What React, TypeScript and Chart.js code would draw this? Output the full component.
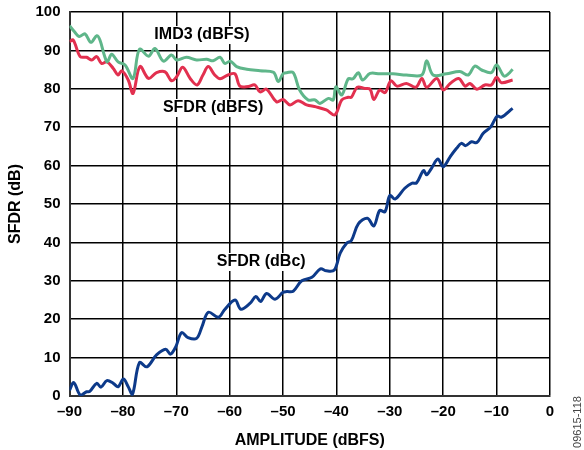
import React, { useEffect, useRef } from "react";
import { Chart, registerables } from "chart.js";

Chart.register(...registerables);

const xTicks = [-90, -80, -70, -60, -50, -40, -30, -20, -10, 0];
const yTicks = [0, 10, 20, 30, 40, 50, 60, 70, 80, 90, 100];

const dbcX = [-90, -89.2, -88, -86.8, -86.2, -84.9, -84.1, -83, -81.8, -80.9, -79.9, -79, -78.2, -76.9, -75.5, -73.7, -72, -71.1, -70.1, -69, -67.8, -66.2, -65.2, -64, -62.1, -61, -59, -57.9, -56.2, -55.1, -54.2, -53.1, -51.5, -50, -49.3, -48.1, -46.5, -44.6, -43, -41.9, -40.4, -39.3, -38.1, -37.2, -35.9, -34.2, -33, -31.9, -30.9, -30, -29, -27.2, -25.9, -25, -23.7, -23.1, -22.2, -21, -20, -18.7, -17.5, -16.6, -15.8, -14.7, -13.7, -12.5, -11.1, -9.9, -9.1, -7];
const dbcY = [1.5, 3.5, 0.3, 1.1, 1.2, 3.3, 2.3, 4.0, 3.3, 2.4, 4.4, 2.4, 0.5, 8.7, 7.6, 10.7, 12.2, 10.9, 12.8, 16.5, 15.2, 15.0, 18.0, 21.8, 20.5, 22.4, 25, 22.6, 24.1, 25.9, 24.6, 26.7, 25.2, 27.0, 27.2, 27.3, 30, 30.9, 33.1, 32.6, 32.8, 37.2, 39.8, 40.5, 44.8, 46.3, 44.3, 48.3, 48.0, 52.2, 51.3, 54.1, 55.4, 55.5, 58.7, 57.6, 59.3, 61.7, 59.7, 62.3, 64.5, 65.8, 65.2, 66.2, 66.0, 68.4, 70.1, 72.9, 72.6, 74.9];

const imdX = [-90, -89.1, -88.2, -87.1, -86, -84.9, -84.3, -83.4, -82.9, -82.1, -80.9, -79.6, -78.1, -76.9, -75.2, -74, -72.4, -70.9, -69.9, -68.1, -66.2, -64.3, -63.1, -61.8, -60.9, -59.9, -58.7, -56.8, -54.3, -51.8, -50.9, -50, -49.3, -48.1, -46.9, -45.3, -44, -43.1, -41.5, -40.6, -40.1, -39, -37.8, -36.9, -35.9, -35.1, -33.7, -31.9, -29.4, -26.9, -24, -23.1, -21.9, -19.4, -16.9, -15.3, -14.1, -12.8, -11, -10, -8.6, -7.8, -7];
const imdY = [96.4, 94.9, 93.6, 94.3, 92.1, 93.8, 92.7, 88.4, 87, 89, 87, 86.2, 82.7, 90.3, 88.5, 90.5, 87.2, 88.8, 87.5, 88.2, 87.5, 87.7, 87.3, 88.2, 86.6, 87.2, 85.8, 85.1, 84.7, 84.3, 81.9, 83.9, 84.2, 84.2, 79.7, 77.1, 77.1, 76.2, 77.5, 77.1, 80.5, 78.4, 82.6, 82.6, 84.2, 82.3, 84.0, 83.9, 83.9, 83.6, 83.6, 87.3, 83.6, 83.9, 84.5, 83.6, 85.9, 84.9, 84.2, 86.2, 83.3, 83.9, 85.1];

const dbfsX = [-90, -89.3, -88, -86.8, -85.8, -84.9, -84, -83, -81.8, -80.9, -80.2, -79, -78.1, -76.8, -75.2, -73.7, -72.1, -70.9, -69.9, -68.8, -67.4, -66.1, -65, -64, -62.8, -61.8, -60.3, -59, -58.1, -56.5, -55.3, -54.3, -53.1, -51.2, -50, -48.7, -47.2, -45.6, -43.8, -41.9, -40.3, -39, -37.8, -37.2, -36.1, -34.7, -33.7, -33, -31.9, -30.9, -29.8, -28.7, -26.9, -25.1, -24, -23.1, -21.2, -20, -18.7, -17.1, -15.9, -15, -13.7, -12.2, -11, -10, -9.1, -7];
const dbfsY = [92.3, 92.7, 88.4, 88.2, 87.5, 88.4, 86.6, 87.0, 85.3, 83.6, 84.7, 82.3, 78.8, 85.8, 82.7, 84.2, 84.4, 82.1, 83.2, 85.6, 82.7, 81.0, 83.6, 85.8, 83.6, 82.6, 83.6, 83.9, 80.7, 80.6, 81.0, 79.2, 79.9, 76.6, 77.2, 75.8, 76.9, 75.8, 75.3, 74.5, 73.2, 77.1, 77.8, 77.8, 80.4, 80.1, 79.9, 77.2, 79.7, 79.0, 82.1, 80.7, 81.4, 80.4, 82.7, 80.4, 82.7, 79.7, 81.4, 82.7, 80.7, 81.4, 79.9, 81.0, 81.0, 83.0, 81.6, 82.3];

const seriesLabels = ["IMD3 (dBFS)", "SFDR (dBFS)", "SFDR (dBc)"];
const labelX = [-65.2, -63.1, -54.1];
const labelY = [94.0, 75.0, 34.9];

const FONT = "Arial, 'Liberation Sans', sans-serif";

const toPts = (xs: number[], ys: number[]) => xs.map((x, i) => ({ x, y: ys[i] }));

const fmt = (v: number) => (v < 0 ? "\u2013" + Math.abs(v) : String(v));

const labelPlugin = {
  id: "seriesLabels",
  beforeDatasetsDraw(chart: any) {
    const { ctx, scales } = chart;
    ctx.save();
    ctx.font = `bold 16px ${FONT}`;
    ctx.textAlign = "center";
    ctx.textBaseline = "middle";
    seriesLabels.forEach((t, i) => {
      const px = scales.x.getPixelForValue(labelX[i]);
      const py = scales.y.getPixelForValue(labelY[i]);
      const w = ctx.measureText(t).width;
      ctx.fillStyle = "#ffffff";
      ctx.fillRect(px - w / 2 - 3, py - 9, w + 6, 18);
      ctx.fillStyle = "#000000";
      ctx.fillText(t, px, py);
    });
    ctx.restore();
  },
  afterDraw(chart: any) {
    const { ctx } = chart;
    ctx.save();
    ctx.font = `11px ${FONT}`;
    ctx.fillStyle = "#444444";
    ctx.translate(578, 422);
    ctx.rotate(-Math.PI / 2);
    ctx.textAlign = "center";
    ctx.textBaseline = "middle";
    ctx.fillText("09615-118", 0, 0);
    ctx.restore();
  },
};

export default function App() {
  const ref = useRef<HTMLCanvasElement | null>(null);
  useEffect(() => {
    if (!ref.current) return;
    const chart = new Chart(ref.current, {
      type: "line",
      data: {
        datasets: [
          { label: seriesLabels[0], data: toPts(imdX, imdY), borderColor: "#5fb68a", borderWidth: 3, pointRadius: 0, tension: 0.35, fill: false },
          { label: seriesLabels[1], data: toPts(dbfsX, dbfsY), borderColor: "#e2304f", borderWidth: 3, pointRadius: 0, tension: 0.35, fill: false },
          { label: seriesLabels[2], data: toPts(dbcX, dbcY), borderColor: "#0d3a8a", borderWidth: 3, pointRadius: 0, tension: 0.35, fill: false },
        ],
      },
      options: {
        animation: false,
        responsive: false,
        events: [],
        layout: { padding: { left: 0, top: 12, right: 34, bottom: 0 } },
        plugins: { legend: { display: false }, tooltip: { enabled: false } },
        scales: {
          x: {
            type: "linear",
            min: xTicks[0],
            max: xTicks[xTicks.length - 1],
            afterBuildTicks: (s: any) => { s.ticks = xTicks.map((v) => ({ value: v })); },
            afterFit: (s: any) => { s.height = 54; s.paddingLeft = 0; s.paddingRight = 0; },
            ticks: { callback: (v: any) => fmt(Number(v)), color: "#000", font: { family: FONT, size: 15, weight: "bold" }, padding: 7, maxRotation: 0 },
            grid: { color: "#000", lineWidth: 1.5, drawTicks: false },
            border: { color: "#333", width: 2 },
            title: { display: true, text: "AMPLITUDE (dBFS)", color: "#000", font: { family: FONT, size: 16, weight: "bold" }, padding: { top: 4, bottom: 0 } },
          },
          y: {
            min: yTicks[0],
            max: yTicks[yTicks.length - 1],
            afterBuildTicks: (s: any) => { s.ticks = yTicks.map((v) => ({ value: v })); },
            afterFit: (s: any) => { s.width = 69.5; s.paddingTop = 0; s.paddingBottom = 0; },
            ticks: { color: "#000", font: { family: FONT, size: 15, weight: "bold" }, padding: 9 },
            grid: { color: "#000", lineWidth: 1.5, drawTicks: false },
            border: { color: "#333", width: 2 },
            title: { display: true, text: "SFDR (dB)", color: "#000", font: { family: FONT, size: 16, weight: "bold" }, padding: { top: 6, bottom: 0 } },
          },
        },
      },
      plugins: [labelPlugin],
    } as any);
    return () => chart.destroy();
  }, []);
  return (
    <div style={{ position: "absolute", left: 0, top: 0, width: 584, height: 450, background: "#fff" }}>
      <canvas ref={ref} width={584} height={450} style={{ display: "block" }} />
    </div>
  );
}
